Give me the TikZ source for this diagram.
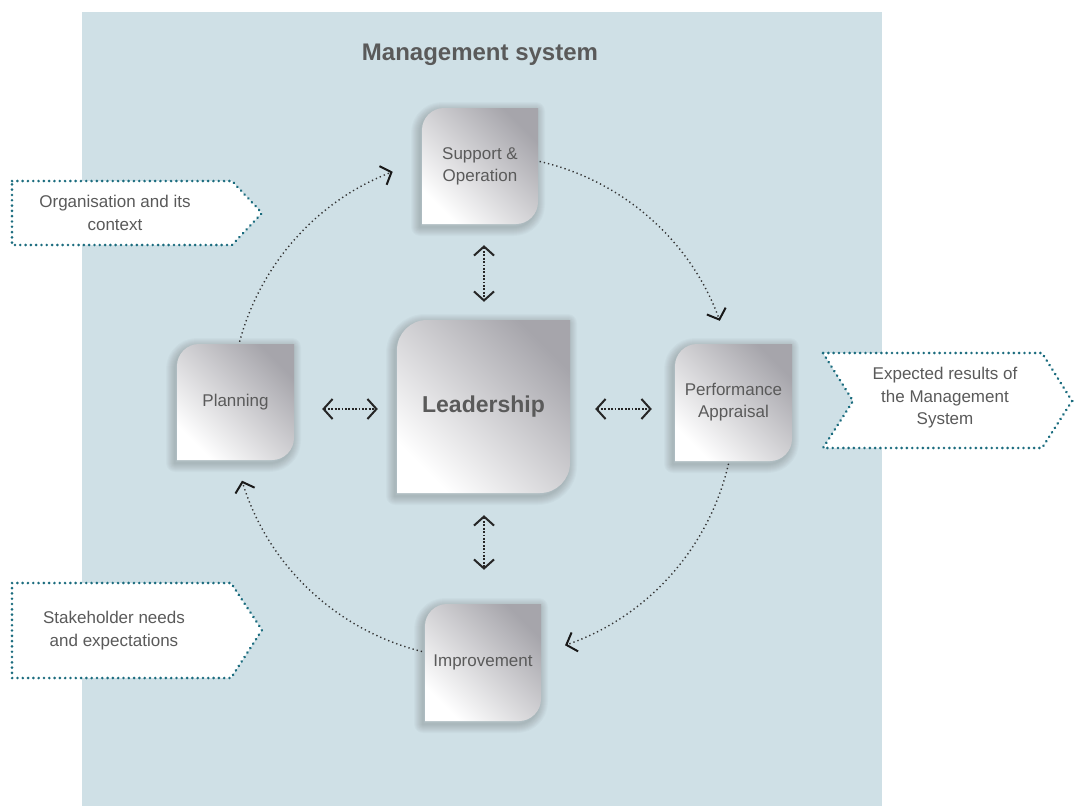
\documentclass[tikz,border=0pt]{standalone}
\usepackage{fontspec}
\setmainfont{Liberation Sans}
\usetikzlibrary{arrows.meta,calc}
\definecolor{bgblue}{HTML}{CFE0E6}
\definecolor{frameteal}{HTML}{1B6C7E}
\definecolor{txtgray}{HTML}{5A5A5A}
\definecolor{boxdark}{HTML}{A6A5AB}
\definecolor{boxmid}{HTML}{E0E0E3}
\tikzset{
 boxshade/.style={top color=boxdark, middle color=boxmid, bottom color=white, shading angle=-45},
 boxlabel/.style={align=center, text=txtgray, font=\fontsize{17}{22}\selectfont, inner sep=0pt},
 cyc/.style={draw=black!80, line width=1.4pt, dash pattern=on 1.3pt off 3pt, -{Straight Barb[length=9pt,width=20pt,line width=2pt,color=black!90]}},
 dbl/.style={draw=black!85, line width=2pt, dash pattern=on 1.8pt off 1.6pt, {Straight Barb[length=9pt,width=20pt,line width=2pt]}-{Straight Barb[length=9pt,width=20pt,line width=2pt]}},
 frame/.style={draw=frameteal, fill=white, line width=2.8pt, line cap=round, dash pattern=on 0.1pt off 5.2pt},
 ftext/.style={align=center, text=txtgray, font=\fontsize{17}{23}\selectfont, inner sep=0pt},
 title/.style={font=\bfseries\fontsize{24}{28}\selectfont, text=txtgray, inner sep=0pt},
}
\newcommand\mgbox[8]{%
 \begin{scope}[shift={(-2,3)}]
 \foreach \w in {2,4,...,18}{%
  \draw[black, opacity=0.018, line width=\w, line join=round]
   (#2,#3+#6) .. controls (#2,#3+0.45*#6) and (#2+0.45*#6,#3) .. (#2+#6,#3) -- (#4,#3) -- (#4,#5-#6) .. controls (#4,#5-0.45*#6) and (#4-0.45*#6,#5) .. (#4-#6,#5) -- (#2,#5) -- cycle;}
 \end{scope}
 \shade[boxshade]
   (#2,#3+#6) .. controls (#2,#3+0.45*#6) and (#2+0.45*#6,#3) .. (#2+#6,#3) -- (#4,#3) -- (#4,#5-#6) .. controls (#4,#5-0.45*#6) and (#4-0.45*#6,#5) .. (#4-#6,#5) -- (#2,#5) -- cycle;
 \node[boxlabel,#8, minimum width={#4-#2}, minimum height={#5-#3}] (#1) at ({(#2+#4)/2},{(#3+#5)/2}) {#7};
}
\begin{document}
\begin{tikzpicture}[x=1pt,y=-1pt]
\useasboundingbox (0,0) rectangle (1079,806);
\fill[bgblue] (82,12) rectangle (882,806);
% cycle arcs
\coordinate (ctr) at (483,407);
\coordinate (a1) at ($(ctr)+(195:252)$);
\coordinate (a2) at ($(ctr)+(282:252)$);
\coordinate (a3) at ($(ctr)+(13:252)$);
\coordinate (a4) at ($(ctr)+(104:252)$);
\draw[cyc] (a1) arc[start angle=195,end angle=249,radius=252];
\draw[cyc] (a2) arc[start angle=282,end angle=340,radius=252];
\draw[cyc] (a3) arc[start angle=13,end angle=71,radius=252];
\draw[cyc] (a4) arc[start angle=104,end angle=163,radius=252];
% boxes
\mgbox{sup}{422}{108}{538}{224}{22}{Support \&\\Operation}{}
\mgbox{lead}{397}{320}{570}{493}{30}{Leadership}{font=\bfseries\fontsize{23}{27}\selectfont}
\mgbox{plan}{177}{344}{294}{460}{22}{Planning}{}
\mgbox{perf}{675}{344}{792}{461}{22}{Performance\\Appraisal}{}
\mgbox{imp}{425}{604}{541}{721}{22}{Improvement}{}
% double arrows
\draw[dbl] ($(sup.south)+(4,21)$) -- ($(lead.north)+(0.5,-18)$);
\draw[dbl] ($(lead.south)+(0.5,22)$) -- ($(imp.north)+(1,-34)$);
\draw[dbl] ($(plan.east)+(28,7)$) -- ($(lead.west)+(-19,2.5)$);
\draw[dbl] ($(lead.east)+(25,2.5)$) -- ($(perf.west)+(-23,6.5)$);
% side frames
\path[frame] (12,181) -- (232,181) -- (262,213) -- (232,245) -- (12,245) -- cycle;
\node[ftext] (org) at (115,213) {Organisation and its\\context};
\path[frame] (12,583) -- (231,583) -- (262,630) -- (231,678) -- (12,678) -- cycle;
\node[ftext] (stk) at (114,631) {Stakeholder needs\\and expectations};
\path[frame] (823,353) -- (1042,353) -- (1072,401) -- (1042,448) -- (823,448) -- (853,401) -- cycle;
\node[ftext, font=\fontsize{17}{22.5}\selectfont] (exp) at (945,398) {Expected results of\\the Management\\System};
% title
\node[title] (ttl) at (480,55) {Management system};
\end{tikzpicture}
\end{document}
